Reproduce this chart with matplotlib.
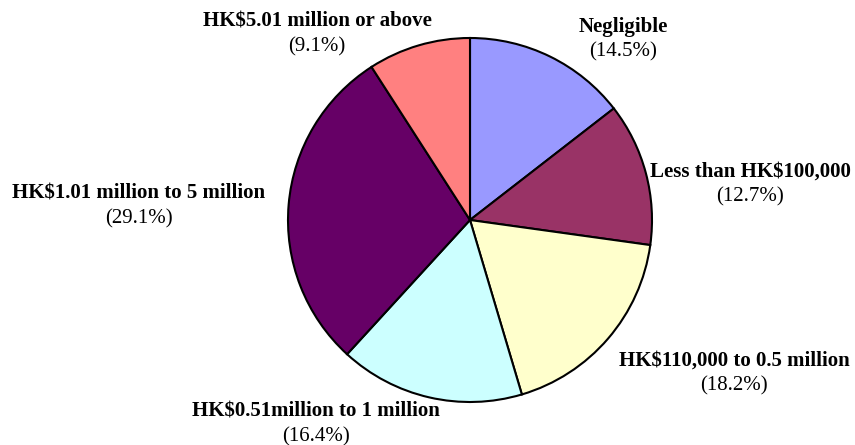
import matplotlib
matplotlib.use("Agg")
import matplotlib.pyplot as plt

categories = ["Negligible", "Less than HK$100,000", "HK$110,000 to 0.5 million",
              "HK$0.51million to 1 million", "HK$1.01 million to 5 million",
              "HK$5.01 million or above"]
shares = [14.5, 12.7, 18.2, 16.4, 29.1, 9.1]
colors = ["#9999FF", "#993366", "#FFFFCC", "#CCFFFF", "#660066", "#FF8080"]
# label anchor points (canvas units, origin top-left)
label_pos = [(623, 27), (750, 172), (734, 361), (316, 412), (139, 194), (317, 22)]

W, H = 855, 445
fig = plt.figure(figsize=(W / 100, H / 100), dpi=100)
ax = fig.add_axes([0, 0, 1, 1])
ax.set_xlim(0, W)
ax.set_ylim(0, H)
ax.set_aspect("equal")
ax.axis("off")

ax.pie(shares, colors=colors, startangle=90, counterclock=False,
       center=(470, H - 220), radius=182,
       wedgeprops=dict(edgecolor="black", linewidth=1.5))
ax.set_xlim(0, W)
ax.set_ylim(0, H)

for name, val, (x, y) in zip(categories, shares, label_pos):
    ax.text(x, H - y, name, ha="center", va="center", fontsize=15,
            fontweight="bold", family="Liberation Serif")
    ax.text(x, H - y - 25, f"({val:.1f}%)", ha="center", va="center",
            fontsize=15, family="Liberation Serif")

fig.savefig("out.png", dpi=100, facecolor="white")
